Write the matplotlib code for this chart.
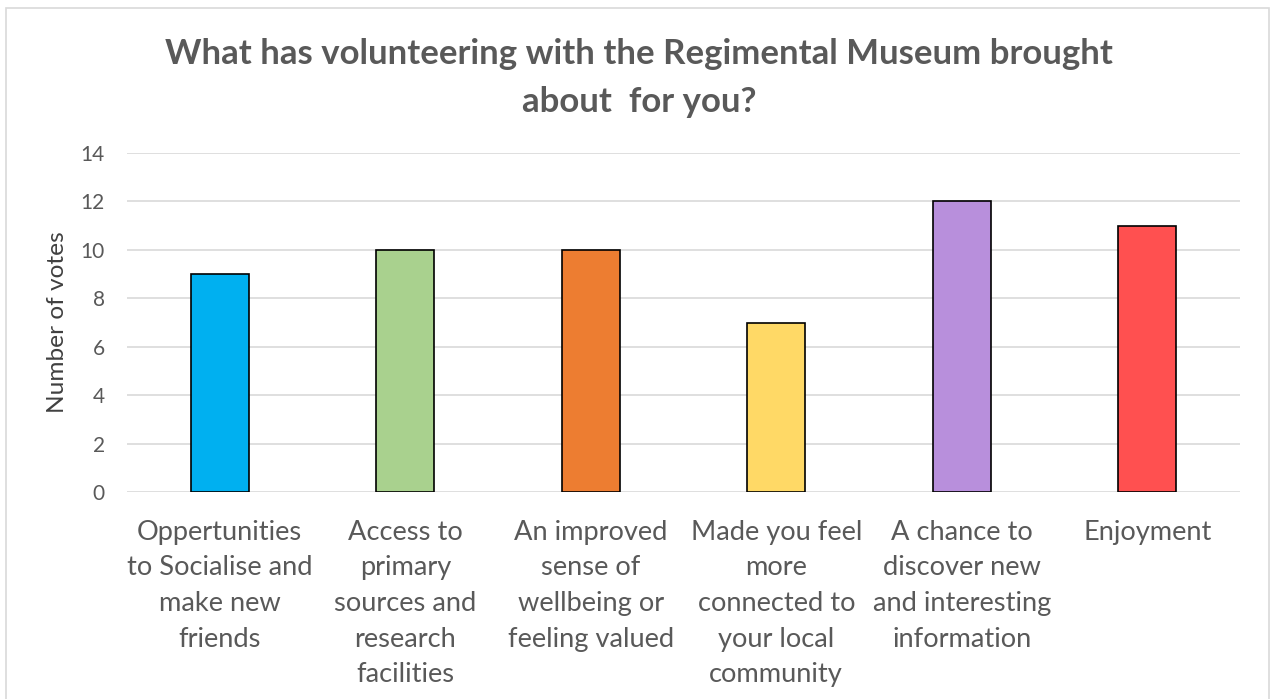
import matplotlib
matplotlib.use("Agg")
import matplotlib.pyplot as plt
from matplotlib.patches import Rectangle

# Survey answers and vote counts
categories = [
    "Oppertunities\nto Socialise and\nmake new\nfriends",
    "Access to\nprimary\nsources and\nresearch\nfacilities",
    "An improved\nsense of\nwellbeing or\nfeeling valued",
    "Made you feel\nmore\nconnected to\nyour local\ncommunity",
    "A chance to\ndiscover new\nand interesting\ninformation",
    "Enjoyment",
]
votes = [9, 10, 10, 7, 12, 11]
bar_colors = ["#00B0F0", "#A9D18E", "#ED7D31", "#FFD966", "#B88FDC", "#FF5050"]
y_ticks = [0, 2, 4, 6, 8, 10, 12, 14]

plt.rcParams["font.family"] = ["Lato", "DejaVu Sans"]
text_gray = "#595959"
grid_gray = "#D9D9D9"

fig = plt.figure(figsize=(12.71, 6.99), dpi=100)
ax = fig.add_axes([127 / 1271, 1 - 492 / 699, (1240 - 127) / 1271, (492 - 153) / 699])

x = list(range(len(categories)))
ax.bar(x, votes, width=0.31, color=bar_colors, edgecolor="black", linewidth=1.2, zorder=3)

ax.set_xlim(-0.5, len(categories) - 0.5)
ax.set_ylim(0, 14)
ax.set_yticks(y_ticks)
ax.set_xticks(x)
ax.set_xticklabels(categories, fontsize=19.6, color=text_gray, linespacing=1.53)
ax.tick_params(axis="both", length=0, colors=text_gray)
ax.tick_params(axis="y", labelsize=15, pad=16)
ax.tick_params(axis="x", pad=20)
ax.set_axisbelow(True)
ax.yaxis.grid(True, color=grid_gray, linewidth=1.2)
for s in ax.spines.values():
    s.set_visible(False)

fig.text(58 / 1271, 1 - 322 / 699, "Number of votes", rotation=90, fontsize=17.6,
         color="#404040", ha="center", va="center")

fig.text(0.503, 1 - 78 / 699,
         "What has volunteering with the Regimental Museum brought\nabout  for you?",
         fontsize=25, fontweight="bold", color=text_gray, ha="center", va="center",
         linespacing=1.6)

# light frame round the chart
fig.patches.append(Rectangle((6 / 1271, -0.01), 1263 / 1271, 1 - 8 / 699 + 0.01,
                             transform=fig.transFigure, fill=False,
                             edgecolor=grid_gray, linewidth=1.2))

fig.savefig("out.png", dpi=100, facecolor="white")
